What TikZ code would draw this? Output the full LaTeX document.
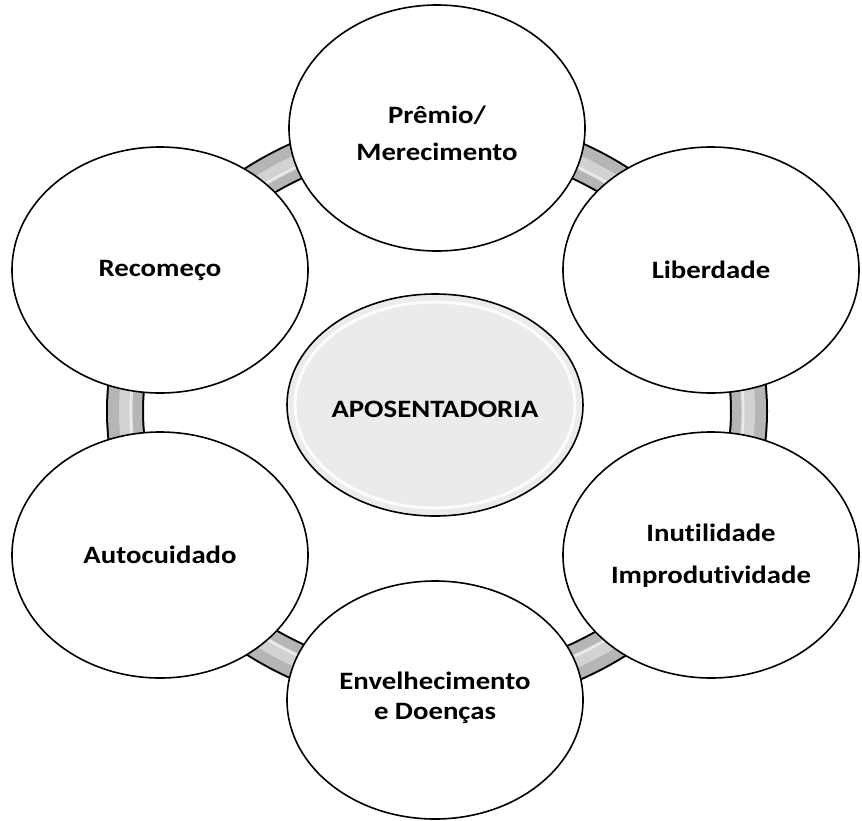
\documentclass[tikz,border=0pt]{standalone}
\usepackage{fontspec}
\setmainfont{Carlito}[FakeStretch=1.15, Ligatures=NoCommon]
\usetikzlibrary{shapes.geometric}
\tikzset{
  bubble/.style={ellipse, draw=black, line width=1.6pt, fill=white,
    minimum width=296pt, minimum height=246pt, inner sep=0pt},
  hub/.style={ellipse, draw=black, line width=1.6pt, fill=gray!16,
    minimum width=296pt, minimum height=222pt, inner sep=0pt},
  lbl/.style={align=center, inner sep=0pt, font=\fontsize{25}{#1}\selectfont\bfseries},
  lbl/.default=37,
}
\begin{document}
\begin{tikzpicture}[x=1pt,y=-1pt]
\useasboundingbox (0,0) rectangle (862,820);
\fill[white] (0,0) rectangle (862,820);
\coordinate (ring) at (437,411);
% ring band behind the bubbles
\draw[black, line width=38pt] (ring) ellipse [x radius=312pt, y radius=280pt];
\draw[gray!58, line width=34pt] (ring) ellipse [x radius=312pt, y radius=280pt];
\draw[gray!35, line width=12pt] (ring) ellipse [x radius=312pt, y radius=280pt];
\draw[white, line width=3pt, opacity=.6] (ring) ellipse [x radius=306pt, y radius=274pt];
% bubbles
\node[bubble] (premio) at (437,128) {};
\node[bubble] (liberdade) at (711,270) {};
\node[bubble] (inutil) at (711,555) {};
\node[bubble, minimum height=238pt] (envelhe) at (435,700) {};
\node[bubble] (auto) at (160,555) {};
\node[bubble] (recomeco) at (160,270) {};
% hub
\node[hub] (apos) at (435,405) {};
\draw[white, line width=3pt, opacity=.85] (apos.center) ellipse [x radius=140pt, y radius=103pt];
% labels
\node[lbl=37] (premiot) at ([yshift=-5pt]premio.center) {Prêmio/\\Merecimento};
\node[lbl] (liberdadet) at (liberdade.center) {Liberdade};
\node[lbl=42] (inutilt) at ([yshift=-1pt]inutil.center) {Inutilidade\\Improdutividade};
\node[lbl=30] (envelhet) at ([yshift=2pt]envelhe.center) {Envelhecimento\\e Doenças};
\node[lbl] (autot) at (auto.center) {Autocuidado};
\node[lbl] (recomecot) at (recomeco.center) {Recomeço};
\node[lbl] (aposlabel) at ([yshift=-4pt]apos.center) {APOSENTADORIA};
\end{tikzpicture}
\end{document}
